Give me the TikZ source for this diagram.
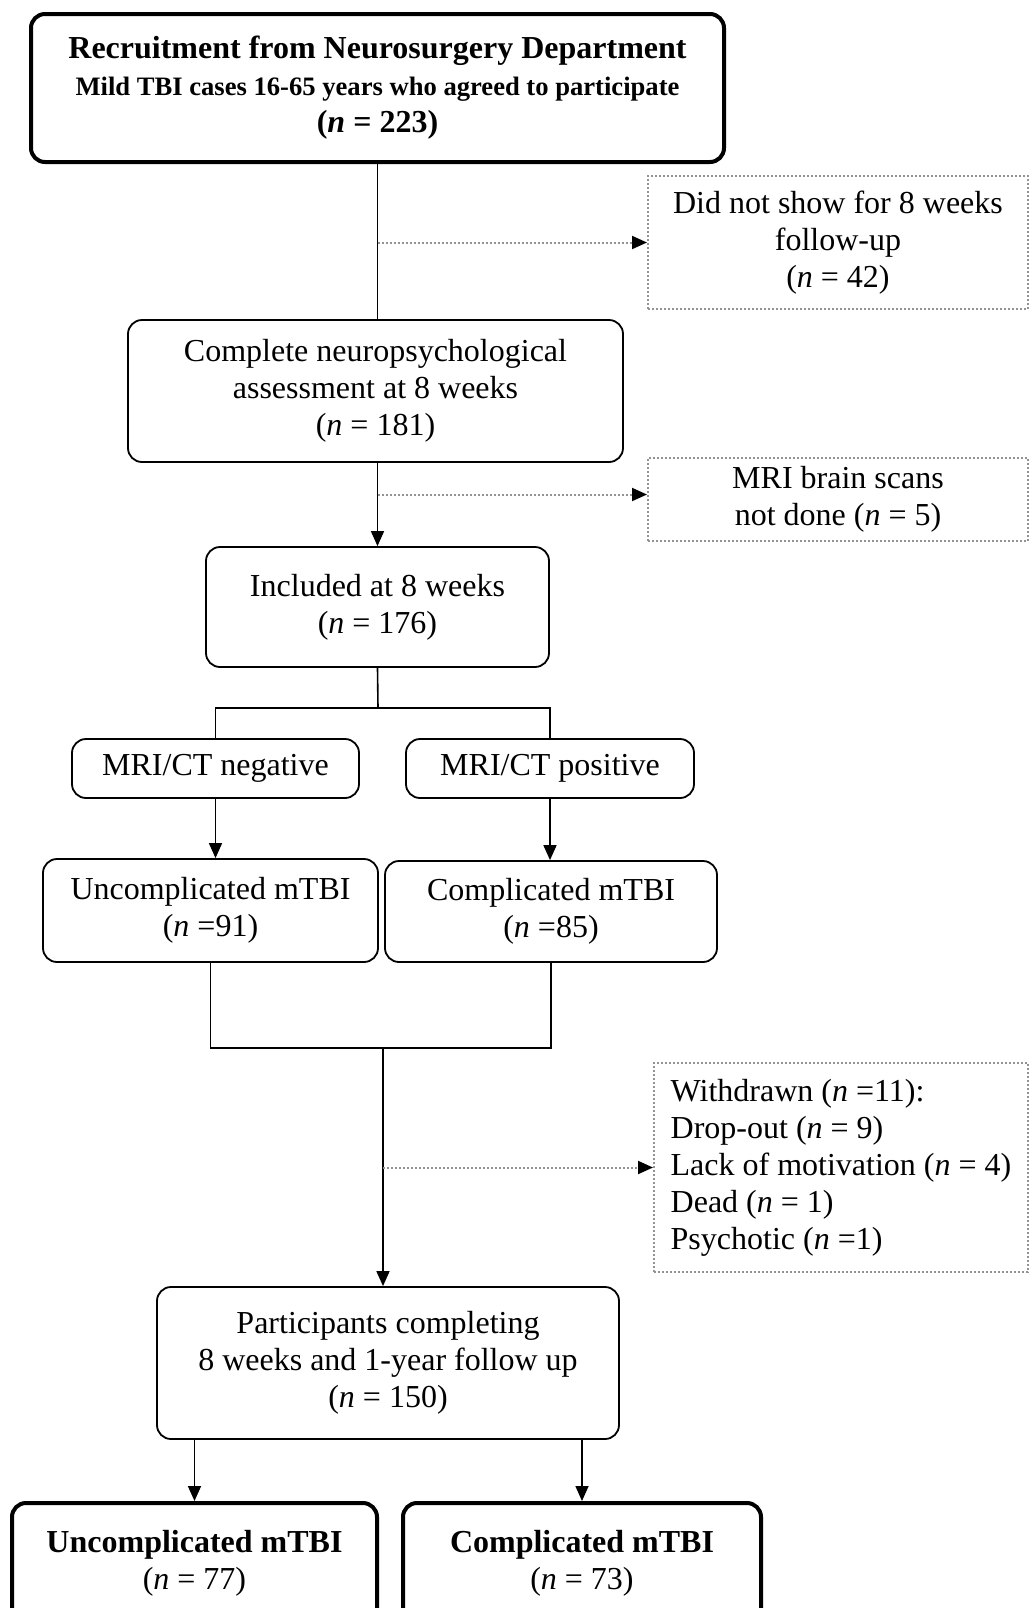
\documentclass[tikz,border=0pt]{standalone}
\usepackage{fontspec}
\setmainfont{Liberation Serif}
\usetikzlibrary{positioning, arrows.meta}

\begin{document}
\begin{tikzpicture}[x=0.5pt, y=-0.5pt, >={Triangle[length=7.5pt,width=6.5pt]}, % Arrow tip style
    box/.style={draw, rounded corners=7pt, line width=0.9pt, align=center, inner sep=0pt,
                font=\fontsize{16}{18.5}\selectfont},
    thickbox/.style={box, line width=2pt, font=\fontsize{16}{18.5}\selectfont\bfseries},
    dotbox/.style={draw=gray!85, densely dotted, line width=1pt, align=center, inner sep=0pt,
                font=\fontsize{16}{18.5}\selectfont},
    link/.style={line width=0.8pt},
    dotlink/.style={draw=gray!85, densely dotted, line width=1pt, -{Triangle[length=7.5pt,width=6.5pt,color=black]}}]
    \useasboundingbox (0,0) rectangle (1030,1608);

    % Main column of boxes
    \node[thickbox, minimum width=346.5pt, minimum height=74pt] (recruit) at (377.5,88)
        {Recruitment from Neurosurgery Department\\
         {\fontsize{13.3}{17.5}\selectfont Mild TBI cases 16-65 years who agreed to participate}\\
         (\textit{n} = 223)};
    \node[box, minimum width=247.5pt, minimum height=71pt] (complete) at (375.5,391)
        {Complete neuropsychological\\ assessment at 8 weeks\\ (\textit{n} = 181)};
    \node[box, minimum width=171.5pt, minimum height=60pt] (included) at (377.5,607)
        {Included at 8 weeks\\ (\textit{n} = 176)};

    % Excluded boxes on the right
    \node[dotbox, minimum width=190pt, minimum height=66.5pt] (noshow) at (838,242.5)
        {Did not show for 8 weeks\\ follow-up\\ (\textit{n} = 42)};
    \node[dotbox, minimum width=190pt, minimum height=41.5pt] (mri) at (838,499.5)
        {MRI brain scans\\ not done (\textit{n} = 5)};

    % Split by scan result
    \node[box, minimum width=143.5pt, minimum height=29.5pt] (neg) at (215.5,768.5) {MRI/CT negative};
    \node[box, minimum width=144pt, minimum height=29.5pt] (pos) at (550,768.5) {MRI/CT positive};
    \node[box, minimum width=167.5pt, minimum height=51.5pt] (uncomp) at (210.5,910.5)
        {Uncomplicated mTBI\\ (\textit{n} =91)};
    \node[box, minimum width=166pt, minimum height=50.5pt] (comp) at (551,911.5)
        {Complicated mTBI\\ (\textit{n} =85)};

    % Withdrawn and follow-up
    \node[dotbox, align=left, minimum width=187pt, minimum height=104.5pt] (withdrawn) at (841,1167.5)
        {Withdrawn (\textit{n} =11):\\ Drop-out (\textit{n} = 9)\\ Lack of motivation (\textit{n} = 4)\\
         Dead (\textit{n} = 1)\\ Psychotic (\textit{n} =1)};
    \node[box, minimum width=231pt, minimum height=76pt] (particip) at (388,1363)
        {Participants completing\\ 8 weeks and 1-year follow up\\ (\textit{n} = 150)};
    \node[thickbox, minimum width=182.5pt, minimum height=60pt] (uncompB) at (194.5,1563)
        {Uncomplicated mTBI\\ \mdseries(\textit{n} = 77)};
    \node[thickbox, minimum width=179pt, minimum height=60pt] (compB) at (582,1563)
        {Complicated mTBI\\ \mdseries(\textit{n} = 73)};

    % Junction points
    \coordinate (split) at (378,708);
    \coordinate (merge) at (383,1048);

    % Connectors
    \draw[link] (recruit.south) -- (recruit.south |- complete.north);
    \draw[dotlink] (recruit.south |- noshow.west) -- (noshow.west);
    \draw[link,->] (complete.south -| included.north) -- (included.north);
    \draw[dotlink] (included.north |- mri.west) ++(0,-5) -- ([yshift=2.5pt]mri.west);
    \draw[link] (included.south) -- (split);
    \draw[link] (neg.north) -- (neg.north |- split) -- (pos.north |- split) -- (pos.north);
    \draw[link,->] (neg.south) -- (neg.south |- uncomp.north);
    \draw[link,->] (pos.south) -- (pos.south |- comp.north);
    \draw[link] (uncomp.south) -- (uncomp.south |- merge) -- (comp.south |- merge) -- (comp.south);
    \draw[link,->] (merge) -- (merge |- particip.north);
    \draw[dotlink] (merge |- withdrawn.west) -- (withdrawn.west);
    \draw[link,->] (uncompB.north |- particip.south) -- (uncompB.north);
    \draw[link,->] (compB.north |- particip.south) -- (compB.north);
\end{tikzpicture}
\end{document}
